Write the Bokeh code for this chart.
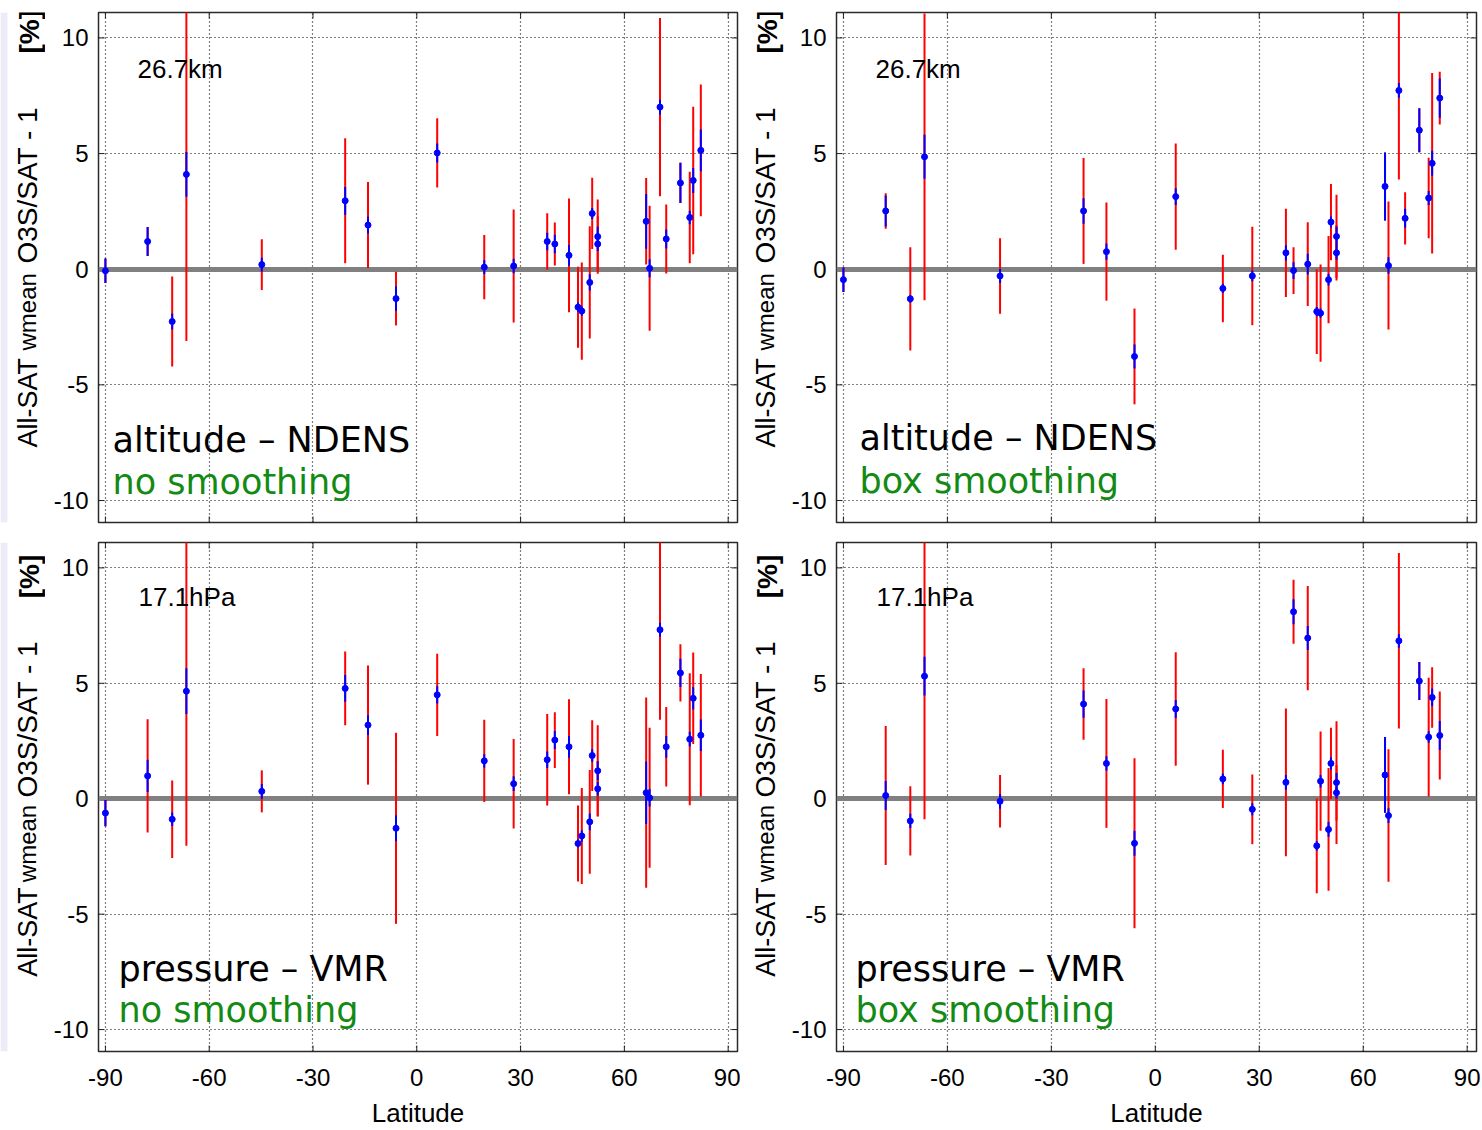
import numpy as np
from bokeh.plotting import figure
from bokeh.models import Range1d, FixedTicker, Label, ColumnDataSource, BoxAnnotation
from bokeh.layouts import row, column
from bokeh.core.properties import value
from bokeh.embed import file_html
from bokeh.resources import INLINE

# ---------------- data ----------------
lats = [-90.0, -77.8, -70.7, -66.6, -44.8, -20.7, -14.1, -6.0, 5.9, 19.5, 28.0,
        37.7, 39.9, 44.0, 46.6, 47.7, 50.0, 50.7, 52.3, 52.3, 66.3, 67.3, 70.3,
        72.1, 76.2, 78.9, 79.9, 82.1]

# top-left: altitude - NDENS, no smoothing
v_tl = [-0.07, 1.2, -2.26, 4.1, 0.2, 2.96, 1.91, -1.27, 5.03, 0.09, 0.14, 1.2, 1.09,
        0.6, -1.64, -1.81, -0.57, 2.41, 1.41, 1.09, 2.07, 0.04, 7.01, 1.31, 3.73,
        2.24, 3.84, 5.14]
b_tl = [0.53, 0.63, 0.35, 0.97, 0.3, 0.6, 0.36, 0.53, 0.41, 0.3, 0.31, 0.38, 0.4,
        0.45, 0.2, 0.2, 0.35, 0.24, 0.43, 0.3, 1.18, 0.39, 0.32, 0.41, 0.87, 0.29,
        0.54, 0.9]
r_tl = [0.53, 0.63, 1.95, 7.2, 1.1, 2.7, 1.86, 1.16, 1.5, 1.39, 2.44, 1.22, 0.93,
        2.46, 1.75, 2.1, 2.43, 1.54, 1.61, 1.2, 1.87, 2.7, 3.85, 1.49, 0.87, 1.98,
        3.19, 2.85]

# top-right: altitude - NDENS, box smoothing
v_tr = [-0.45, 2.52, -1.28, 4.86, -0.29, 2.52, 0.76, -3.77, 3.14, -0.83, -0.29, 0.71,
        -0.06, 0.22, -1.83, -1.9, -0.45, 2.04, 1.42, 0.71, 3.58, 0.16, 7.73, 2.2,
        6.01, 3.08, 4.58, 7.4]
b_tr = [0.53, 0.67, 0.17, 0.95, 0.3, 0.55, 0.35, 0.52, 0.36, 0.2, 0.23, 0.33, 0.36,
        0.45, 0.2, 0.2, 0.25, 0.24, 0.42, 0.3, 1.47, 0.36, 0.32, 0.41, 0.95, 0.3,
        0.54, 0.85]
r_tr = [0.53, 0.77, 2.23, 6.2, 1.63, 2.29, 2.12, 2.07, 2.3, 1.46, 2.13, 1.91, 1.01,
        1.81, 1.83, 2.1, 1.89, 1.65, 1.8, 1.2, 1.47, 2.77, 3.85, 1.13, 0.95, 1.74,
        3.9, 1.14]

# bottom-left: pressure - VMR, no smoothing
v_bl = [-0.62, 0.99, -0.89, 4.66, 0.32, 4.78, 3.19, -1.28, 4.5, 1.64, 0.65, 1.69,
        2.54, 2.25, -1.94, -1.61, -1.0, 1.87, 1.21, 0.43, 0.26, 0.04, 7.32, 2.25,
        5.45, 2.58, 4.35, 2.75]
b_bl = [0.57, 0.7, 0.29, 0.99, 0.32, 0.58, 0.43, 0.56, 0.37, 0.29, 0.32, 0.36, 0.39,
        0.47, 0.17, 0.25, 0.36, 0.27, 0.41, 0.29, 1.35, 0.38, 0.3, 0.47, 0.61, 0.32,
        0.48, 0.68]
r_bl = [0.57, 2.45, 1.68, 6.7, 0.91, 1.6, 2.58, 4.14, 1.78, 1.78, 1.94, 1.98, 1.21,
        2.06, 1.65, 2.08, 2.25, 1.53, 1.97, 1.2, 4.12, 3.03, 3.9, 1.72, 1.24, 2.86,
        1.98, 2.65]

# bottom-right: pressure - VMR, box smoothing
nan = float("nan")
v_br = [nan, 0.14, -0.96, 5.31, -0.11, 4.1, 1.53, -1.93, 3.89, 0.86, -0.46, 0.71,
        8.1, 6.96, -2.04, 0.76, -1.33, 1.53, 0.7, 0.26, 1.03, -0.73, 6.84, nan,
        5.1, 2.67, 4.39, 2.74]
b_br = [nan, 0.63, 0.31, 0.84, 0.32, 0.59, 0.31, 0.54, 0.39, 0.23, 0.26, 0.32, 0.54,
        0.52, 0.2, 0.27, 0.32, 0.27, 0.42, 0.25, 1.64, 0.32, 0.3, nan, 0.82, 0.25,
        0.38, 0.63]
r_br = [nan, 3.01, 1.5, 6.2, 1.14, 1.55, 2.79, 3.68, 2.46, 1.26, 1.51, 3.2, 1.39,
        2.26, 2.05, 2.15, 2.66, 1.55, 2.66, 1.2, 1.64, 2.87, 3.8, nan, 0.82, 2.57,
        1.31, 1.91]

lat_ticks = [-90, -60, -30, 0, 30, 60, 90]
lat_tick_labels = ["-90", "-60", "-30", "0", "30", "60", "90"]
val_ticks = [-10, -5, 0, 5, 10]
val_tick_labels = ["-10", "-5", "0", "5", "10"]

level_texts = ["26.7km", "26.7km", "17.1hPa", "17.1hPa"]
method_texts = ["altitude \u2013 NDENS", "altitude \u2013 NDENS",
                "pressure \u2013 VMR", "pressure \u2013 VMR"]
smooth_texts = ["no smoothing", "box smoothing", "no smoothing", "box smoothing"]
x_label = "Latitude"
y_label_parts = ["All-SAT", "wmean", "O3S/SAT - 1", "[%]"]

TICK_FONT = "Liberation Sans"
BIG_FONT = "DejaVu Sans"
GREEN = "#138a13"
LAVENDER = "#ECEBF8"

X_LO, X_HI = -92.0, 92.7
Y_LO, Y_HI = -10.95, 11.1
FH_TOP, FH_BOT = 510, 511


def make_label_fig(top, left):
    # the frame of this narrow figure is aligned with the frame of the panel next to it
    w = 45
    h = 541 if top else 589
    fh = FH_TOP if top else FH_BOT
    p = figure(width=w, height=h, x_range=Range1d(0, w), y_range=Range1d(0, fh),
               output_backend="svg", toolbar_location=None,
               min_border_left=0, min_border_right=0, min_border_top=0, min_border_bottom=0)
    p.axis.visible = False
    p.grid.visible = False
    p.outline_line_color = None
    p.background_fill_color = "white"
    p.border_fill_color = "white"
    if left:
        p.add_layout(BoxAnnotation(left=0, right=7, fill_color=LAVENDER, fill_alpha=1.0,
                                   line_color=None, level="underlay"))
    xc = 27 if left else 25
    if top:
        ys = [75, 172, 259, 469]
    else:
        ys = [75, 170, 255, 455]
    sizes = ["27px", "24px", "28px", "28px"]
    styles = ["normal", "normal", "normal", "bold"]
    xs = [xc, xc, xc, xc + 1.5]
    for t, x, y, fs, st in zip(y_label_parts, xs, ys, sizes, styles):
        p.text(x=[x], y=[y], text=[t], angle=90, angle_units="deg",
               text_font=value(TICK_FONT), text_font_size=value(fs),
               text_font_style=st, text_align="left", text_baseline="middle",
               text_color="black")
    return p


def make_panel(vals, blue, red, top, left, idx):
    fw = 639 if left else 640
    fh = FH_TOP if top else FH_BOT
    mbl = 53 if left else 51
    mbr = 3 if left else 6
    mbt = 12 if top else 1
    mbb = 19 if top else 77
    p = figure(width=mbl + fw + mbr, height=mbt + fh + mbb,
               x_range=Range1d(X_LO, X_HI), y_range=Range1d(Y_LO, Y_HI),
               output_backend="svg", toolbar_location=None,
               min_border_left=mbl, min_border_right=mbr,
               min_border_top=mbt, min_border_bottom=mbb,
               background_fill_color="white", border_fill_color="white")
    p.outline_line_color = "#2a2a2a"
    p.outline_line_width = 1.5

    for ax in (p.xaxis[0], p.yaxis[0]):
        ax.axis_line_color = None
        ax.major_tick_line_color = None
        ax.minor_tick_line_color = None
        ax.major_tick_in = 0
        ax.major_tick_out = 0
        ax.major_label_text_font = TICK_FONT
        ax.major_label_text_font_size = "24px"
        ax.major_label_text_color = "black"

    p.xaxis.ticker = FixedTicker(ticks=lat_ticks)
    p.xaxis.major_label_overrides = dict(zip(lat_ticks, lat_tick_labels))
    p.yaxis.ticker = FixedTicker(ticks=val_ticks)
    p.yaxis.major_label_overrides = dict(zip(val_ticks, val_tick_labels))
    p.yaxis.major_label_standoff = 10
    if top:
        p.xaxis.visible = False
    else:
        p.xaxis.major_label_standoff = 17
        p.xaxis.axis_label = x_label
        p.xaxis.axis_label_text_font = TICK_FONT
        p.xaxis.axis_label_text_font_size = "26px"
        p.xaxis.axis_label_text_font_style = "normal"
        p.xaxis.axis_label_text_color = "black"
        p.xaxis.axis_label_standoff = 9

    for g, tk in ((p.xgrid[0], lat_ticks), (p.ygrid[0], val_ticks)):
        g.ticker = FixedTicker(ticks=tk)
        g.grid_line_color = "black"
        g.grid_line_dash = "1 3"
        g.grid_line_width = 1.2

    # inward tick marks on all four sides (half of each dash is clipped by the frame)
    nx, ny = len(lat_ticks), len(val_ticks)
    p.scatter(x=lat_ticks, y=[Y_HI] * nx, marker="dash", angle=90, angle_units="deg",
              size=12, line_color="#222222", line_width=1)
    p.scatter(x=lat_ticks, y=[Y_LO] * nx, marker="dash", angle=90, angle_units="deg",
              size=12, line_color="#222222", line_width=1)
    p.scatter(x=[X_LO] * ny, y=val_ticks, marker="dash", size=12,
              line_color="#222222", line_width=1)
    p.scatter(x=[X_HI] * ny, y=val_ticks, marker="dash", size=12,
              line_color="#222222", line_width=1)

    v = np.array(vals, dtype=float)
    b = np.array(blue, dtype=float)
    r = np.array(red, dtype=float)
    src = ColumnDataSource(dict(x=lats, y=v, rlo=v - r, rhi=v + r, blo=v - b, bhi=v + b))

    p.hspan(y=[0], line_color="#808080", line_width=5)
    p.segment(x0="x", y0="rlo", x1="x", y1="rhi", source=src, line_color="#ff0000", line_width=2)
    p.segment(x0="x", y0="blo", x1="x", y1="bhi", source=src, line_color="#0000ff", line_width=2)
    p.scatter(x="x", y="y", source=src, size=6, marker="circle", fill_color="#0000ff",
              line_color="#0000ff")

    # level text
    lx = 39 if top else 40
    p.add_layout(Label(x=lx, y=fh - 56, x_units="screen", y_units="screen",
                       text=level_texts[idx], text_font=TICK_FONT, text_font_size="26px",
                       text_color="black", text_baseline="middle"))
    mx = [14, 23, 20, 19][idx]
    my1 = [83, 85, 83, 83][idx]
    my2 = [41, 42, 42, 42][idx]
    p.add_layout(Label(x=mx, y=my1, x_units="screen", y_units="screen",
                       text=method_texts[idx], text_font=BIG_FONT, text_font_size="35px",
                       text_color="black", text_baseline="middle"))
    p.add_layout(Label(x=mx, y=my2, x_units="screen", y_units="screen",
                       text=smooth_texts[idx], text_font=BIG_FONT, text_font_size="35px",
                       text_color=GREEN, text_baseline="middle"))
    return p


p_tl = make_panel(v_tl, b_tl, r_tl, True, True, 0)
p_tr = make_panel(v_tr, b_tr, r_tr, True, False, 1)
p_bl = make_panel(v_bl, b_bl, r_bl, False, True, 2)
p_br = make_panel(v_br, b_br, r_br, False, False, 3)

top_row = row(make_label_fig(True, True), p_tl, make_label_fig(True, False), p_tr)
bot_row = row(make_label_fig(False, True), p_bl, make_label_fig(False, False), p_br)
layout = column(top_row, bot_row)

open("out.html", "w").write(file_html(layout, INLINE))
